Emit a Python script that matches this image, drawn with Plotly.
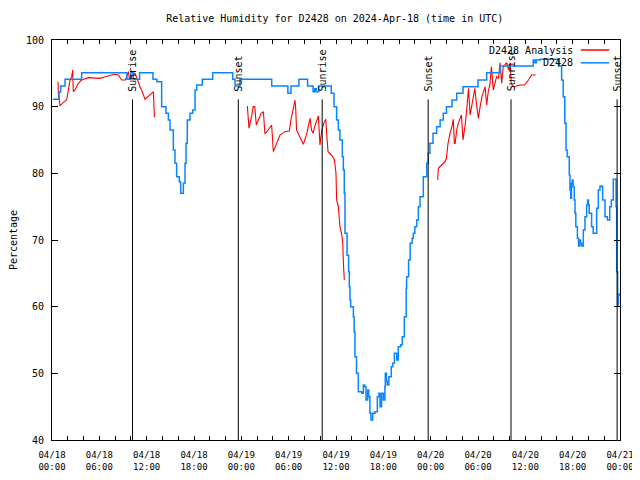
import pandas as pd
import plotly.graph_objects as go

# ---------------- data (hours after 2024-04-18 00:00 UTC, percentage) ----------------
base_time = "2024-04-18 00:00"

obs_hours = [0.1, 0.6, 0.9, 1.1, 1.65, 3.76, 9.4, 9.5, 10.0, 10.3, 11.1, 12.4, 12.8, 13.3, 13.9,
             14.45, 14.75, 14.96, 15.38, 15.59, 15.8, 16.14, 16.31, 16.56, 16.65, 16.86, 16.99,
             17.15, 17.49, 17.83, 18.13, 18.34, 19.05, 20.3, 20.37, 22.56, 22.9, 23.2, 23.62,
             23.83, 27.6, 27.85, 29.3, 29.9, 30.2, 30.3, 31.2, 31.3, 32.1, 32.4, 32.9, 33.1,
             33.3, 33.5, 33.8, 35.2, 35.4, 35.75, 36.08, 36.3, 36.5, 36.8, 36.93, 37.05, 37.14,
             37.4, 37.6, 37.69, 37.77, 37.86, 38.1, 38.2, 38.3, 38.4, 38.6, 38.83, 39.26, 39.47,
             39.65, 39.8, 40.01, 40.15, 40.3, 40.43, 40.65, 40.94, 41.24, 41.45, 41.58, 41.78,
             42.0, 42.2, 42.25, 42.4, 42.5, 42.7, 43.0, 43.2, 43.4, 43.7, 43.9, 44.2, 44.4,
             44.66, 44.9, 44.95, 45.2, 45.4, 45.65, 45.8, 46.0, 46.23, 46.44, 46.65, 47.07,
             47.5, 47.7, 47.9, 48.3, 48.76, 49.2, 49.6, 50.0, 50.7, 51.3, 52.1, 53.0, 54.0,
             55.1, 56.7, 56.8, 60.6, 61.0, 61.2, 61.4, 61.9, 64.0, 64.2, 64.6, 64.8, 65.0,
             65.16, 65.3, 65.57, 65.66, 65.75, 65.85, 65.95, 66.05, 66.2, 66.3, 66.4, 66.6,
             66.75, 66.9, 67.0, 67.14, 67.35, 67.56, 67.77, 67.9, 68.0, 68.1, 68.4, 68.6, 68.9,
             69.04, 69.25, 69.46, 69.7, 69.8, 70.1, 70.4, 70.7, 70.9, 71.15, 71.4, 71.5, 71.58,
             71.7, 71.8, 71.9]
obs_values = [91.1, 91.1, 92.2, 93.1, 94.1, 95.1, 95.1, 94.1, 95.1, 94.1, 95.1, 95.1, 94.1, 93.75, 90.0,
              89.0, 88.0, 86.5, 83.5, 81.5, 79.5, 78.75, 77.0, 77.0, 78.5, 81.5, 84.5,
              88.0, 89.0, 89.5, 92.5, 93.25, 94.1, 94.1, 95.1, 95.1, 94.1, 93.1, 93.1,
              94.1, 94.1, 93.1, 93.1, 92.0, 92.0, 93.1, 93.1, 94.1, 94.1, 93.1, 93.1, 92.25,
              92.7, 92.25, 93.1, 93.1, 92.0, 90.0, 88.0, 86.5, 85.0, 82.5, 80.5, 77.0, 71.0,
              67.7, 65.25, 63.0, 61.0, 60.0, 60.0, 58.5, 56.25, 52.5, 50.0, 47.25, 47.0, 48.25,
              48.0, 46.0, 47.5, 46.5, 44.0, 43.0, 44.0, 44.25, 46.5, 47.0, 45.0, 47.0,
              46.0, 48.0, 50.0, 48.8, 48.25, 49.5, 51.0, 51.5, 53.0, 52.0, 54.0, 54.3, 55.5,
              58.5, 62.75, 64.5, 67.0, 69.5, 70.25, 71.0, 72.0, 73.0, 75.0, 76.5, 79.5,
              81.5, 83.0, 84.5, 86.0, 87.0, 88.0, 89.0, 90.0, 91.0, 92.0, 93.0, 93.0, 94.0,
              95.1, 95.1, 96.1, 96.1, 97.0, 96.6, 97.0, 97.1, 97.1, 96.1, 94.0, 91.5, 87.5,
              83.5, 82.5, 79.75, 77.5, 76.25, 78.5, 79.0, 78.0, 76.0, 74.0, 72.0, 70.25,
              69.1, 70.0, 69.5, 69.1, 71.5, 73.5, 75.25, 76.0, 75.25, 74.0, 72.0, 71.0, 71.0,
              74.75, 77.5, 78.1, 78.0, 76.0, 73.5, 73.0, 75.0, 76.0, 79.1, 79.1, 75.0, 65.25,
              60.25, 61.75, 62.0]

ana_hours = [0.77, 0.8, 1.02, 1.4, 1.86, 2.0, 2.28, 2.5, 2.62, 2.7, 2.9, 3.34, 3.76, 4.6, 5.45,
             6.08, 6.72, 7.35, 7.9, 8.4, 8.83, 9.3, 9.7, 9.8, 10.1, 10.5, 10.7, 11.15, 11.35,
             11.8, 12.2, 12.85, 12.98, None,
             24.76, 24.97, 25.1, 25.3, 25.5, 25.7, 25.9, 26.1, 26.5, 26.8, 26.99, 27.4, 27.84,
             28.06, 28.5, 28.9, 29.5, 30.08, 30.25, 30.59, 30.8, 30.9, 31.0, 31.4, 31.86, 32.3,
             32.7, 32.9, 33.1, 33.3, 33.76, 33.97, 34.2, 34.45, 34.7, 34.85, 34.99, 35.6, 35.8,
             36.0, 36.08, 36.3, 36.42, 36.5, 36.7, 36.85, 36.93, 37.05, None,
             48.9, 48.97, 49.4, 49.8, 50.0, 50.2, 50.45, 50.7, 50.87, 51.0, 51.1, 51.3, 51.5,
             51.7, 51.9, 52.1, 52.4, 52.6, 52.8, 53.0, 53.2, 53.4, 53.6, 53.8, 54.05, 54.3,
             54.5, 54.9, 55.1, 55.3, 55.5, 55.7, 55.94, 56.15, 56.36, 56.6, 56.8, 57.0, 57.2,
             57.4, 57.6, 57.9, 58.1, 58.2, 58.5, 59.3, 59.9, 60.4, 60.8, 61.3]
ana_values = [93.75, 92.0, 90.1, 90.6, 91.0, 92.25, 94.0, 94.5, 95.5, 92.25, 92.5, 93.5, 94.0, 94.35, 94.35,
              94.25, 94.5, 94.75, 94.85, 94.75, 94.0, 94.0, 95.25, 94.25, 94.5, 95.0, 94.5, 93.0, 92.5,
              91.1, 91.5, 92.25, 88.4, None,
              90.1, 86.75, 87.5, 88.5, 90.0, 90.0, 87.25, 87.75, 89.0, 89.25, 85.9, 86.5, 87.25,
              83.25, 84.5, 85.75, 86.25, 86.35, 87.75, 90.0, 91.0, 89.5, 86.5, 85.5, 84.35, 86.0,
              88.25, 86.5, 86.0, 87.0, 88.6, 84.25, 86.5, 87.5, 88.1, 85.5, 83.25, 82.5, 82.0,
              80.0, 76.0, 75.0, 73.0, 72.0, 71.0, 69.75, 66.75, 64.0, None,
              79.0, 80.75, 81.25, 81.75, 82.25, 84.5, 86.0, 87.0, 88.1, 84.5, 84.5, 86.5, 87.5,
              88.25, 88.75, 85.0, 87.5, 90.0, 92.75, 88.75, 90.0, 91.0, 92.75, 90.5, 88.25, 90.25,
              91.5, 93.0, 90.25, 92.25, 93.25, 96.0, 92.5, 93.5, 94.5, 94.25, 96.6, 93.5, 96.0,
              96.25, 96.6, 95.5, 96.6, 93.5, 93.0, 93.25, 93.25, 94.0, 94.75, 94.75]

sunrise_times = ["2024-04-18 10:12", "2024-04-19 10:15", "2024-04-20 10:11"]
sunset_times = ["2024-04-18 23:37", "2024-04-19 23:41", "2024-04-20 23:38"]

tick_times = ["2024-04-18 00:00", "2024-04-18 06:00", "2024-04-18 12:00", "2024-04-18 18:00",
              "2024-04-19 00:00", "2024-04-19 06:00", "2024-04-19 12:00", "2024-04-19 18:00",
              "2024-04-20 00:00", "2024-04-20 06:00", "2024-04-20 12:00", "2024-04-20 18:00",
              "2024-04-21 00:00"]
tick_labels = ["04/18<br>00:00", "04/18<br>06:00", "04/18<br>12:00", "04/18<br>18:00",
               "04/19<br>00:00", "04/19<br>06:00", "04/19<br>12:00", "04/19<br>18:00",
               "04/20<br>00:00", "04/20<br>06:00", "04/20<br>12:00", "04/20<br>18:00",
               "04/21<br>00:00"]

series_names = ["D2428 Analysis", "D2428"]
series_colors = ["#ff0000", "#0a85ff"]

# ---------------- build ----------------
t0 = pd.Timestamp(base_time)


def to_times(hours):
    return [None if h is None else (t0 + pd.Timedelta(hours=h)) for h in hours]


MONO = "DejaVu Sans Mono"

fig = go.Figure()
fig.add_trace(go.Scatter(x=to_times(ana_hours), y=ana_values, mode="lines", name=series_names[0],
                         line=dict(color=series_colors[0], width=1.1), connectgaps=False,
                         showlegend=False))
fig.add_trace(go.Scatter(x=to_times(obs_hours), y=obs_values, mode="lines", name=series_names[1],
                         line=dict(color=series_colors[1], width=1.5, shape="hv"),
                         showlegend=False))

events = [(t, "Sunrise") for t in sunrise_times] + [(t, "Sunset") for t in sunset_times]
for t, lab in events:
    fig.add_shape(type="line", xref="x", yref="y", x0=t, x1=t, y0=40, y1=91.1,
                  line=dict(color="black", width=1))
    fig.add_annotation(x=t, y=92.0, xref="x", yref="y", text=lab, textangle=-90,
                       showarrow=False, xanchor="center", yanchor="bottom",
                       font=dict(family=MONO, size=10, color="black"))

# gnuplot-style legend (text, then line sample on the right)
leg_y = [0.975, 0.943]
for name, col, yy in zip(series_names, series_colors, leg_y):
    fig.add_annotation(x=0.92, y=yy, xref="paper", yref="paper", text=name, showarrow=False,
                       xanchor="right", yanchor="middle",
                       font=dict(family=MONO, size=10, color="black"))
    fig.add_shape(type="line", xref="paper", yref="paper", x0=0.931, x1=0.981, y0=yy, y1=yy,
                  line=dict(color=col, width=1.5))

# the page adds an 8px body margin, so the figure is 632x472 and offsets are compensated
fig.update_layout(
    width=632, height=472,
    margin=dict(l=44, r=20, t=32, b=40, autoexpand=False),
    paper_bgcolor="white", plot_bgcolor="white",
    title=dict(text="Relative Humidity for D2428 on 2024-Apr-18 (time in UTC)",
               x=0.517, xanchor="center", y=0.977, yanchor="middle",
               font=dict(family=MONO, size=10, color="black")),
    font=dict(family=MONO, size=10, color="black"),
    showlegend=False,
)

fig.update_xaxes(
    range=["2024-04-18 00:00", "2024-04-21 00:00"],
    tickmode="array", tickvals=tick_times, ticktext=tick_labels,
    ticks="inside", ticklen=4, tickcolor="black", tickwidth=1,
    tickfont=dict(family=MONO, size=9, color="black"),
    ticklabelstandoff=6,
    minor=dict(dtick=2 * 3600 * 1000, tick0="2024-04-18 00:00", ticks="inside", ticklen=4,
               tickcolor="black", showgrid=False),
    showline=True, linecolor="black", linewidth=1, mirror="ticks",
    showgrid=False, zeroline=False, automargin=False,
)
fig.update_yaxes(
    range=[40, 100], dtick=10, tick0=40,
    ticks="inside", ticklen=6, tickcolor="black", tickwidth=1,
    tickfont=dict(family=MONO, size=10, color="black"),
    ticklabelstandoff=5,
    showline=True, linecolor="black", linewidth=1, mirror="ticks",
    showgrid=False, zeroline=False, automargin=False,
    title=dict(text="Percentage", font=dict(family=MONO, size=10, color="black"), standoff=14),
)

fig.write_html("out.html")
